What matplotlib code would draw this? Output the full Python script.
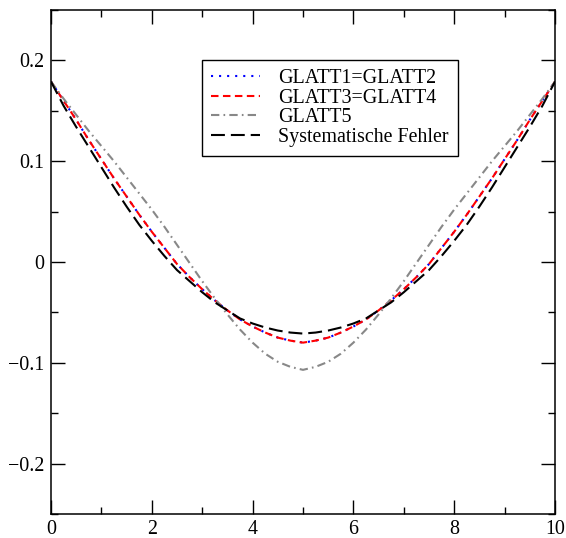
import matplotlib.pyplot as plt
from matplotlib.ticker import MultipleLocator

plt.rcParams['font.family'] = 'Liberation Serif'
plt.rcParams['font.size'] = 14.4
plt.rcParams['lines.scale_dashes'] = False

# quarter-unit samples across the range
x = [0, 0.25, 0.5, 0.75, 1, 1.25, 1.5, 1.75, 2, 2.25, 2.5, 2.75, 3, 3.25, 3.5, 3.75, 4, 4.25, 4.5, 4.75,
     5, 5.25, 5.5, 5.75, 6, 6.25, 6.5, 6.75, 7, 7.25, 7.5, 7.75, 8, 8.25, 8.5, 8.75, 9, 9.25, 9.5, 9.75, 10]
glatt12 = [0.179, 0.160, 0.141, 0.121, 0.102, 0.083, 0.065, 0.047, 0.030, 0.014, -0.002,
           -0.015, -0.027, -0.038, -0.048, -0.057, -0.064, -0.070, -0.075, -0.078, -0.080,
           -0.078, -0.075, -0.070, -0.064, -0.057, -0.048, -0.038, -0.027, -0.015, -0.002,
           0.014, 0.030, 0.047, 0.065, 0.083, 0.102, 0.121, 0.141, 0.160, 0.179]
glatt34 = [0.179, 0.160, 0.141, 0.121, 0.102, 0.083, 0.065, 0.047, 0.030, 0.014, -0.002,
           -0.015, -0.027, -0.038, -0.048, -0.057, -0.064, -0.070, -0.075, -0.078, -0.080,
           -0.078, -0.075, -0.070, -0.064, -0.057, -0.048, -0.038, -0.027, -0.015, -0.002,
           0.014, 0.030, 0.047, 0.065, 0.083, 0.102, 0.121, 0.141, 0.160, 0.179]
glatt5 = [0.179, 0.162, 0.146, 0.130, 0.115, 0.100, 0.084, 0.068, 0.052, 0.035, 0.017,
          -0.001, -0.019, -0.036, -0.052, -0.067, -0.080, -0.091, -0.099, -0.104, -0.107,
          -0.104, -0.099, -0.091, -0.080, -0.067, -0.052, -0.036, -0.019, -0.001, 0.017,
          0.035, 0.052, 0.068, 0.084, 0.100, 0.115, 0.130, 0.146, 0.162, 0.179]
syst = [0.179, 0.155, 0.134, 0.114, 0.094, 0.074, 0.055, 0.037, 0.021, 0.006, -0.008,
        -0.019, -0.030, -0.040, -0.048, -0.056, -0.061, -0.065, -0.068, -0.070, -0.071,
        -0.070, -0.068, -0.065, -0.061, -0.056, -0.048, -0.040, -0.030, -0.019, -0.008,
        0.006, 0.021, 0.037, 0.055, 0.074, 0.094, 0.114, 0.134, 0.155, 0.179]

fig = plt.figure(figsize=(5.66, 5.38), dpi=100)
ax = fig.add_axes([51 / 566, 24 / 538, 504 / 566, 504 / 538])

ax.plot(x, glatt12, color='blue', lw=1.5, dashes=(1.5, 4.3), label='GLATT1=GLATT2')
ax.plot(x, glatt34, color='red', lw=1.5, dashes=(5.4, 3.2), label='GLATT3=GLATT4')
ax.plot(x, glatt5, color='#888888', lw=1.5, dashes=(6, 3, 1.2, 3), label='GLATT5')
ax.plot(x, syst, color='black', lw=1.5, dashes=(10, 4.3), label='Systematische Fehler')

ax.set_xlim(0, 10)
ax.set_ylim(-0.25, 0.25)
ax.xaxis.set_minor_locator(MultipleLocator(1))
ax.yaxis.set_minor_locator(MultipleLocator(0.05))
ax.set_xticks([0, 2, 4, 6, 8, 10], ['0', '2', '4', '6', '8', '10'])
ax.set_yticks([-0.2, -0.1, 0, 0.1, 0.2], ['\u22120.2', '\u22120.1', '0', '0.1', '0.2'])
ax.tick_params(which='both', direction='in', top=True, right=True, width=1.0)
ax.tick_params(which='major', length=10)
ax.tick_params(which='minor', length=5)
ax.tick_params(axis='x', pad=4)
ax.tick_params(axis='y', pad=5)
for s in ax.spines.values():
    s.set_linewidth(1.1)

leg = ax.legend(loc='upper left', bbox_to_anchor=(151 / 504, 1 - 50 / 504),
                frameon=True, fancybox=False, edgecolor='black', framealpha=1,
                handlelength=2.45, handletextpad=0.9, labelspacing=0.03,
                borderpad=0.45, borderaxespad=0)
leg.get_frame().set_linewidth(1.0)

fig.savefig('out.png', dpi=100)
